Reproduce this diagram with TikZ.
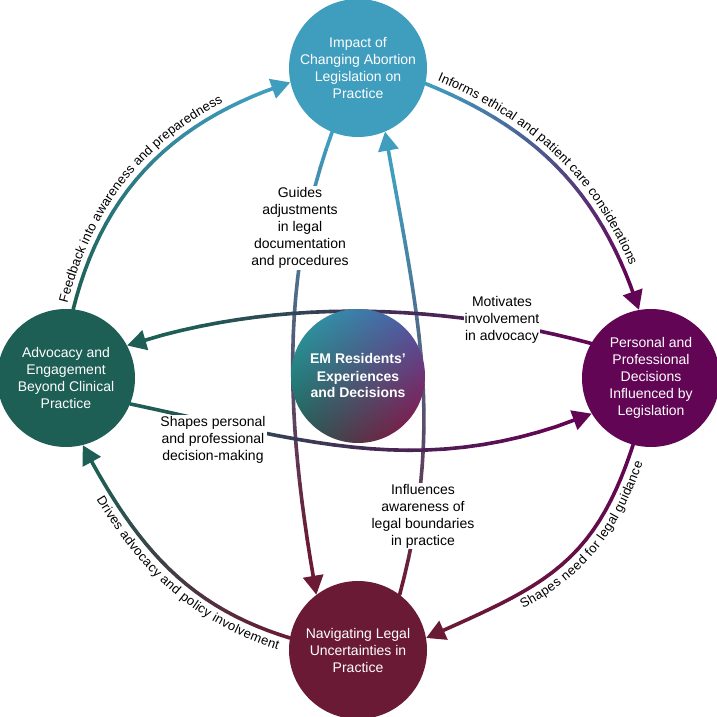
\documentclass[tikz,border=0pt]{standalone}
\usepackage{fontspec}
\setmainfont{Liberation Sans}
\usetikzlibrary{arrows.meta,decorations.markings,decorations.text,shadings}

\definecolor{impact}{HTML}{3F9DBE}
\definecolor{personal}{HTML}{620555}
\definecolor{navigate}{HTML}{6A1A35}
\definecolor{advocacy}{HTML}{1D5F55}
\definecolor{coreUL}{HTML}{2AA2A8}
\definecolor{coreUR}{HTML}{5058AC}
\definecolor{coreLL}{HTML}{1E5C50}
\definecolor{coreLR}{HTML}{900C3C}

\newcommand{\lbl}{\fontsize{14}{17}\selectfont}
\newcommand{\arclbl}{\fontsize{13}{16}\selectfont}

% curved link, drawn in short pieces so its colour can run from #2 to #3
\newcommand{\gradlink}[6]{%
	\path[waypoints=#1] (#4) to[#5] (#6);
	\foreach \i [count=\j from 2, evaluate=\i as \mix using int(100-100*(\i-1)/22)] in {1,...,23}
		{\draw[link, #2!\mix!#3] (#1-\i) -- (#1-\j);}
	\draw[link, #3, -{Triangle[length=19pt, width=20pt]}] (#1-24) -- (#6);
}

\begin{document}
\begin{tikzpicture}[x=1pt, y=1pt,
		hub/.style={circle, minimum size=138pt, inner sep=0pt, align=center, text=white, font=\lbl},
		note/.style={fill=white, inner sep=1pt, align=center, font=\lbl},
		link/.style={line width=3.6pt, line cap=round},
		waypoints/.style={decorate, decoration={markings,
					mark=between positions 0 and 1 step 0.04 with {\coordinate (#1-\pgfkeysvalueof{/pgf/decoration/mark info/sequence number});}}},
		along/.style={decorate, decoration={text along path, text={|\arclbl|#1}}}]
	\useasboundingbox[fill=white] (0,0) rectangle (717,717);

	% outer ring
	\node[hub, fill=impact] (impact) at (358,649) {Impact of\\Changing Abortion\\Legislation on\\Practice};
	\node[hub, fill=personal] (personal) at (651,339) {Personal and\\Professional\\Decisions\\Influenced by\\Legislation};
	\node[hub, fill=navigate] (navigate) at (358,67) {Navigating Legal\\Uncertainties in\\Practice};
	\node[hub, fill=advocacy] (advocacy) at (66,339) {Advocacy and\\Engagement\\Beyond Clinical\\Practice};

	% links round the ring
	\gradlink{e1}{impact}{personal}{impact.-13}{out=-22, in=108}{personal.100}
	\gradlink{e2}{advocacy}{impact}{advocacy.84}{out=76, in=198}{impact.192}
	\gradlink{e3}{personal}{navigate}{personal.255}{out=252, in=24, looseness=1.15}{navigate.10}
	\gradlink{e4}{navigate}{advocacy}{navigate.170}{out=163, in=-62}{advocacy.-76}
	% links across
	\gradlink{e5}{impact}{navigate}{impact.248}{out=250, in=100, looseness=0.9}{navigate.127}
	\gradlink{e6}{navigate}{impact}{navigate.53}{out=75, in=280}{impact.-67}
	\gradlink{e7}{personal}{advocacy}{personal.150}{out=165, in=18, looseness=0.86}{advocacy.28}
	\gradlink{e8}{advocacy}{personal}{advocacy.-22}{out=-12, in=202}{personal.211}

	% labels on the ring
	\path[along={Informs ethical and patient care considerations}, decoration={raise=7pt, text align={left indent=10pt}}]
		(impact.-13) to[out=-22, in=108] (personal.100);
	\path[along={Feedback into awareness and preparedness}, decoration={raise=7pt, text align={left indent=4pt}}]
		(advocacy.84) to[out=76, in=198] (impact.192);
	\path[along={Shapes need for legal guidance}, decoration={raise=-15pt, text align={align=right, right indent=14pt}}]
		(navigate.10) to[out=24, in=252, looseness=1.15] (personal.255);
	\path[along={Drives advocacy and policy involvement}, decoration={raise=-15pt, text align={align=right, right indent=8pt}}]
		(advocacy.-76) to[out=-62, in=163] (navigate.170);

	% labels across
	\node[note] (guides) at (300,489) {Guides\\adjustments\\in legal\\documentation\\and procedures};
	\node[note] (influences) at (423,201) {Influences\\awareness of\\legal boundaries\\in practice};
	\node[note] (motivates) at (502,397) {Motivates\\involvement\\in advocacy};
	\node[note] (shapes) at (213,277) {Shapes personal\\and professional\\decision-making};

	\node[hub, minimum size=134pt, upper left=coreUL, upper right=coreUR, lower left=coreLL, lower right=coreLR, font=\lbl\bfseries]
		(core) at (358,341) {EM Residents’\\Experiences\\and Decisions};
\end{tikzpicture}
\end{document}
